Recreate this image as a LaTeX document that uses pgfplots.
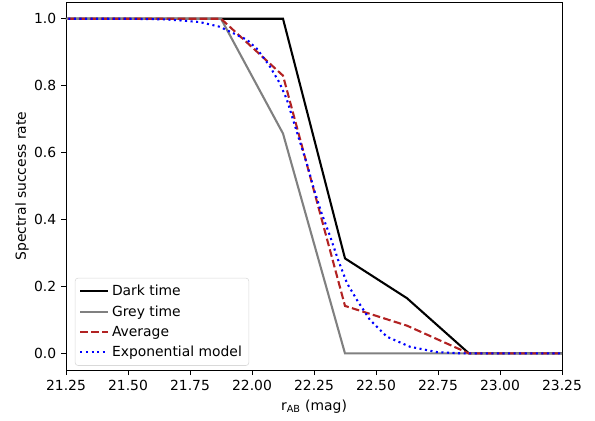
\documentclass[border=0pt]{standalone}
\usepackage{pgfplots}
\pgfplotsset{compat=1.18}
\usepackage{fontspec}
\setmainfont{DejaVu Sans}
\definecolor{avgred}{HTML}{B22222}
\begin{document}
\begin{tikzpicture}
\begin{axis}[
  scale only axis,
  width=357pt, height=265pt,
  xmin=21.25, xmax=23.25, ymin=-0.05, ymax=1.05,
  xtick={21.25,21.5,21.75,22,22.25,22.5,22.75,23,23.25},
  ytick={0,0.2,0.4,0.6,0.8,1.0},
  /pgf/number format/assume math mode=true,
  xticklabel style={/pgf/number format/.cd, fixed, fixed zerofill, precision=2},
  yticklabel style={/pgf/number format/.cd, fixed, fixed zerofill, precision=1},
  tick align=outside, tick pos=left,
  major tick length=3.5pt,
  every tick/.style={black, line width=0.6pt},
  axis line style={line width=0.6pt},
  ticklabel style={font=\fontsize{10}{12}\selectfont},
  label style={font=\fontsize{10}{12}\selectfont},
  xlabel={r\textsubscript{AB} (mag)},
  ylabel={Spectral success rate},
  ylabel style={yshift=-3pt},
  legend style={at={(0.018,0.012)}, anchor=south west, draw=black!15, rounded corners=2pt,
    font=\fontsize{10}{12}\selectfont, row sep=1.6pt, inner sep=3pt},
  legend cell align=left,
  legend image code/.code={\draw[#1] (0pt,0pt) -- (20pt,0pt);},
]
\addplot[black, line width=1.5pt] coordinates {
(21.125,1)(21.375,1)(21.625,1)(21.875,1)(22.125,1)(22.375,0.284)(22.625,0.165)(22.875,0)(23.125,0)(23.375,0)};
\addlegendentry{Dark time}
\addplot[gray, line width=1.5pt] coordinates {
(21.125,1)(21.375,1)(21.625,1)(21.875,1)(22.125,0.657)(22.375,0)(22.625,0)(22.875,0)(23.125,0)(23.375,0)};
\addlegendentry{Grey time}
\addplot[avgred, line width=1.5pt, dash pattern=on 5.5pt off 2.4pt] coordinates {
(21.125,1)(21.375,1)(21.625,1)(21.875,1)(22.125,0.83)(22.375,0.142)(22.625,0.083)(22.875,0)(23.125,0)(23.375,0)};
\addlegendentry{Average}
\addplot[blue, line width=1.5pt, dash pattern=on 1.5pt off 2.5pt] coordinates {
(21.125,1)(21.5,1)(21.65,0.998)(21.71,0.995)(21.79,0.99)(21.87,0.976)(21.98,0.937)(22.02,0.91)(22.07,0.86)(22.11,0.81)(22.14,0.76)(22.165,0.70)(22.19,0.64)(22.22,0.57)(22.25,0.49)(22.28,0.42)(22.315,0.35)(22.347,0.28)(22.383,0.21)(22.423,0.16)(22.476,0.10)(22.544,0.05)(22.637,0.02)(22.746,0.004)(22.85,0)(23.375,0)};
\addlegendentry{Exponential model}
\coordinate (sw) at (rel axis cs:0,0);
\coordinate (ne) at (rel axis cs:1,1);
\end{axis}
\pgfresetboundingbox
\path ([shift={(-47.5pt,-36pt)}]sw) rectangle ([shift={(23.75pt,1.44pt)}]ne);
\end{tikzpicture}
\end{document}
